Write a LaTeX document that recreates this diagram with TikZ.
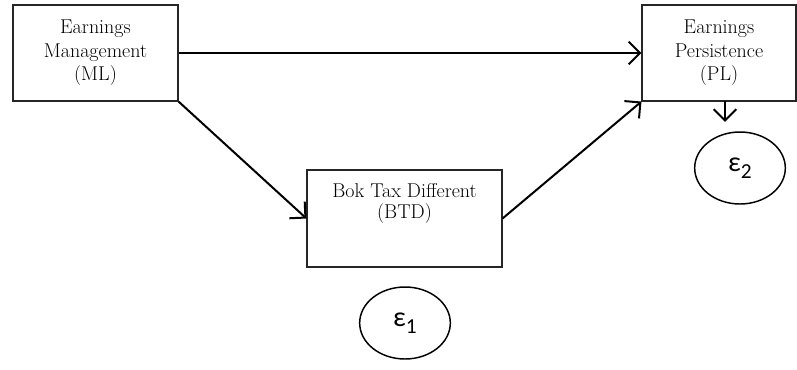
\documentclass[tikz,border=0pt]{standalone}
\usepackage{fontspec}
\newfontfamily\epsfont{Carlito}
\usetikzlibrary{arrows.meta,shapes.geometric}
\begin{document}
\begin{tikzpicture}[x=0.75pt,y=-0.75pt,
  box/.style={draw=black!85,line width=0.8pt,rectangle,inner sep=0pt,
    font=\fontsize{15}{17.5}\selectfont,align=center},
  err/.style={draw,line width=1.1pt,ellipse,inner sep=0pt,
    minimum width=68pt,minimum height=54pt,font=\epsfont\fontsize{21}{21}\selectfont},
  arr/.style={line width=1.5pt,-{Straight Barb[length=8.5pt,width=17pt,line width=1.5pt]}}]
\useasboundingbox (0,0) rectangle (797,369);
\node[box,minimum width=123.75pt,minimum height=72pt] (ml) at (95.5,53)
  {Earnings\\Management\\(ML)};
\node[box,minimum width=115.5pt,minimum height=72pt] (pl) at (719,53)
  {Earnings\\Persistence\\(PL)};
\node[box,minimum width=146.25pt,minimum height=72.75pt] (btd) at (404.5,218.5) {};
\node[font=\fontsize{15}{15.5}\selectfont,align=center,anchor=north] (btdt) at (404.5,179)
  {Bok Tax Different\\(BTD)};
\node[err] (e1) at (405,323) {ε\raisebox{-0.25em}{\fontsize{16}{16}\selectfont 1}};
\node[err] (e2) at (740,168) {ε\raisebox{-0.25em}{\fontsize{16}{16}\selectfont 2}};
\coordinate (plb) at (725,101);
\draw[arr] (ml.east) -- (pl.west);
\draw[arr] (ml.south east) -- (btd.west);
\draw[arr] (btd.east) -- (pl.south west);
\draw[arr,shorten >=7pt] (plb) -- (plb |- e2.north);
\end{tikzpicture}
\end{document}
